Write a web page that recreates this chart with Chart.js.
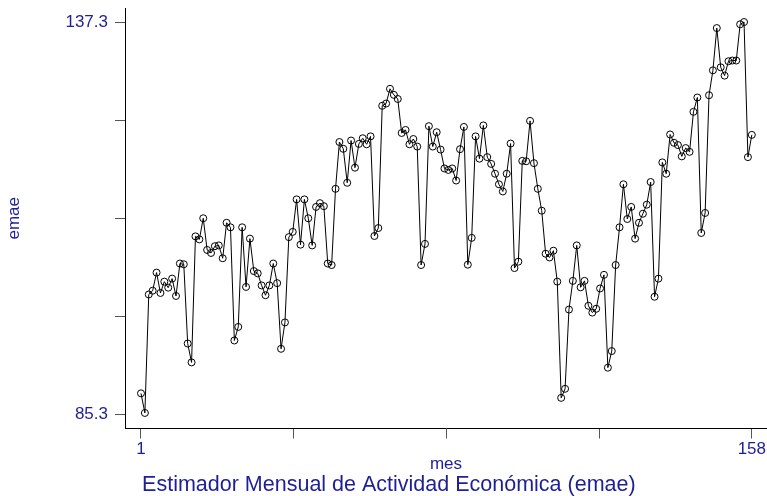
<!DOCTYPE html>
<html>
<head>
<meta charset="utf-8">
<script src="https://cdn.jsdelivr.net/npm/chart.js@4/dist/chart.umd.min.js"></script>
<style>
    html, body { margin: 0; padding: 0; background: #ffffff; }
    #wrap { position: relative; width: 767px; height: 496px; }
</style>
</head>
<body>
<div id="wrap"><canvas id="emaeChart"></canvas></div>
<script>
// emae values, one per month (mes 1..158)
const emae = [
    88.1, 85.5, 101.2, 101.7, 104.1, 101.4, 102.9, 102.1, 103.3, 101.0,
    105.3, 105.2, 94.7, 92.2, 108.9, 108.5, 111.3, 107.1, 106.7, 107.6,
    107.7, 106.0, 110.7, 110.1, 95.1, 96.9, 110.1, 102.2, 108.6, 104.3,
    104.0, 102.4, 101.1, 102.4, 105.3, 102.7, 94.0, 97.5, 108.8, 109.5,
    113.8, 107.8, 113.8, 111.3, 107.7, 112.8, 113.3, 112.9, 105.3, 105.1,
    115.2, 121.4, 120.5, 116.0, 121.6, 118.0, 121.15, 121.9, 121.1, 122.15,
    108.95, 110.0, 126.2, 126.5, 128.45, 127.65, 127.1, 122.6, 123.0, 121.1,
    121.8, 120.8, 105.1, 107.9, 123.5, 120.8, 122.7, 120.4, 117.9, 117.7,
    117.9, 116.3, 120.45, 123.4, 105.15, 108.7, 122.15, 119.2, 123.6, 119.4,
    118.5, 117.2, 115.8, 114.85, 117.2, 121.2, 104.7, 105.55, 118.9, 118.85,
    124.2, 118.6, 115.2, 112.3, 106.6, 106.1, 107.0, 102.9, 87.5, 88.7,
    99.2, 103.0, 107.7, 102.15, 103.0, 99.7, 98.8, 99.3, 102.0, 103.8,
    91.5, 93.7, 105.1, 110.1, 115.8, 111.2, 112.8, 108.6, 110.7, 111.9,
    113.1, 116.1, 100.9, 103.3, 118.7, 117.2, 122.4, 121.3, 121.0, 119.5,
    120.6, 120.1, 125.4, 127.3, 109.35, 112.0, 127.6, 130.9, 136.5, 131.3,
    130.2, 132.1, 132.2, 132.2, 137.0, 137.3, 119.4, 122.35
];
const meses = emae.map((v, i) => i + 1);

// axis ticks (only the ends carry a label)
const xTicks = [1, 40.25, 79.5, 118.75, 158];
const xLabels = ['1', '', '', '', '158'];
const yTicks = [85.3, 98.3, 111.3, 124.3, 137.3];
const yLabels = ['85.3', '', '', '', '137.3'];

const navy = '#1e1e96';
const fontFamily = 'Liberation Sans, Arial, sans-serif';

const points = meses.map((m, i) => ({ x: m, y: emae[i] }));

new Chart(document.getElementById('emaeChart').getContext('2d'), {
    type: 'line',
    data: {
        datasets: [{
            label: 'emae',
            data: points,
            borderColor: '#000000',
            borderWidth: 1,
            tension: 0,
            fill: false,
            pointRadius: 3.5,
            pointBorderWidth: 1,
            pointBorderColor: '#000000',
            pointBackgroundColor: 'rgba(0,0,0,0)'
        }]
    },
    options: {
        responsive: true,
        maintainAspectRatio: false,
        animation: false,
        layout: {
            // no automatic room for the point markers, plot runs to the right edge
            autoPadding: false,
            padding: { top: 8, right: 0, bottom: 0, left: 0 }
        },
        scales: {
            x: {
                type: 'linear',
                min: -3.11,
                max: 161.9,
                afterBuildTicks: scale => {
                    scale.ticks = xTicks.map(v => ({ value: v }));
                },
                afterFit: scale => {
                    scale.height = 46;
                    scale.paddingLeft = 0;
                    scale.paddingRight = 0;
                },
                grid: {
                    drawOnChartArea: false,
                    drawTicks: true,
                    tickLength: 10,
                    tickColor: '#555555',
                    tickWidth: 1
                },
                border: { display: true, color: '#000000', width: 1 },
                ticks: {
                    autoSkip: false,
                    maxRotation: 0,
                    padding: 2,
                    color: navy,
                    font: { family: fontFamily, size: 17, lineHeight: 1 },
                    callback: (value) => {
                        const idx = xTicks.indexOf(value);
                        return idx >= 0 ? xLabels[idx] : '';
                    }
                },
                title: {
                    display: true,
                    text: 'mes',
                    color: navy,
                    padding: { top: 0, bottom: 1.5 },
                    font: { family: fontFamily, size: 17, lineHeight: 1 }
                }
            },
            y: {
                type: 'linear',
                min: 83.44,
                max: 139.16,
                afterBuildTicks: scale => {
                    scale.ticks = yTicks.map(v => ({ value: v }));
                },
                afterFit: scale => {
                    scale.width = 125;
                    scale.paddingTop = 0;
                    scale.paddingBottom = 0;
                },
                grid: {
                    drawOnChartArea: false,
                    drawTicks: true,
                    tickLength: 10,
                    tickColor: '#555555',
                    tickWidth: 1
                },
                border: { display: true, color: '#000000', width: 1 },
                ticks: {
                    autoSkip: false,
                    padding: 7,
                    color: navy,
                    font: { family: fontFamily, size: 17, lineHeight: 1 },
                    callback: (value) => {
                        const idx = yTicks.indexOf(value);
                        return idx >= 0 ? yLabels[idx] : '';
                    }
                },
                title: {
                    display: true,
                    text: 'emae',
                    color: navy,
                    padding: { top: 6, bottom: 0 },
                    font: { family: fontFamily, size: 17, lineHeight: 1 }
                }
            }
        },
        plugins: {
            legend: { display: false },
            tooltip: { enabled: false },
            title: {
                display: true,
                position: 'bottom',
                // leading en space nudges the centred title a little to the right
                text: '\u2002Estimador Mensual de Actividad Económica (emae)',
                color: navy,
                padding: { top: 0, bottom: 0 },
                font: { family: fontFamily, size: 21.5, weight: 'normal', lineHeight: 1 }
            }
        }
    }
});
</script>
</body>
</html>
